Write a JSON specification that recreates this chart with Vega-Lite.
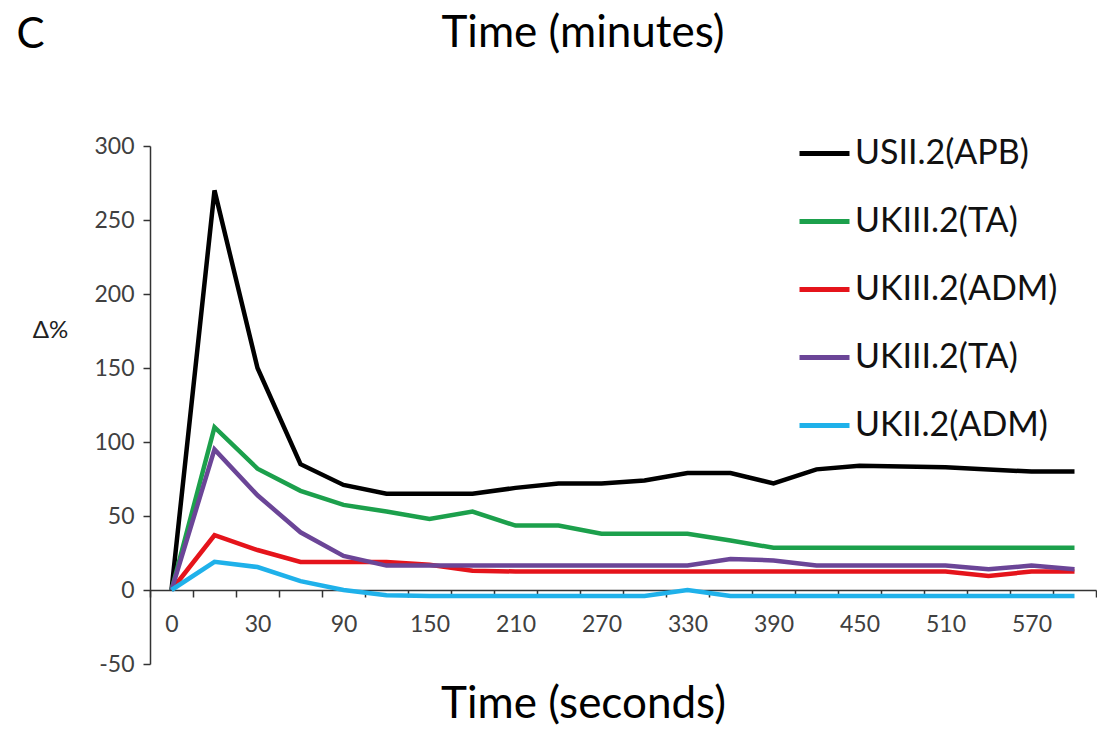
{
"$schema": "https://vega.github.io/schema/vega-lite/v6.json",
"width": 946, "height": 518,
"autosize": {"type": "none"},
"padding": {"left": 150, "top": 146, "right": 1, "bottom": 65},
"background": "white",
"title": {"text": "Time (minutes)", "anchor": "middle", "frame": "group", "dx": -40, "fontSize": 44, "font": "Lato", "fontWeight": "normal", "baseline": "alphabetic", "offset": -78, "color": "#000000"},
"datasets": {
"d": [
{"t":0,"id":"1|USII.2(APB)","v":0},{"t":15,"id":"1|USII.2(APB)","v":270},{"t":30,"id":"1|USII.2(APB)","v":150},{"t":60,"id":"1|USII.2(APB)","v":85},{"t":90,"id":"1|USII.2(APB)","v":71},{"t":120,"id":"1|USII.2(APB)","v":65},{"t":150,"id":"1|USII.2(APB)","v":65},{"t":180,"id":"1|USII.2(APB)","v":65},{"t":210,"id":"1|USII.2(APB)","v":69},{"t":240,"id":"1|USII.2(APB)","v":72},{"t":270,"id":"1|USII.2(APB)","v":72},{"t":300,"id":"1|USII.2(APB)","v":74},{"t":330,"id":"1|USII.2(APB)","v":79},{"t":360,"id":"1|USII.2(APB)","v":79},{"t":390,"id":"1|USII.2(APB)","v":72},{"t":420,"id":"1|USII.2(APB)","v":81.5},{"t":450,"id":"1|USII.2(APB)","v":84},{"t":480,"id":"1|USII.2(APB)","v":83.5},{"t":510,"id":"1|USII.2(APB)","v":83},{"t":540,"id":"1|USII.2(APB)","v":81.5},{"t":570,"id":"1|USII.2(APB)","v":80},{"t":600,"id":"1|USII.2(APB)","v":80},
{"t":0,"id":"2|UKIII.2(TA)","v":0},{"t":15,"id":"2|UKIII.2(TA)","v":110},{"t":30,"id":"2|UKIII.2(TA)","v":82},{"t":60,"id":"2|UKIII.2(TA)","v":67},{"t":90,"id":"2|UKIII.2(TA)","v":57.5},{"t":120,"id":"2|UKIII.2(TA)","v":53},{"t":150,"id":"2|UKIII.2(TA)","v":48},{"t":180,"id":"2|UKIII.2(TA)","v":53},{"t":210,"id":"2|UKIII.2(TA)","v":43.5},{"t":240,"id":"2|UKIII.2(TA)","v":43.5},{"t":270,"id":"2|UKIII.2(TA)","v":38},{"t":300,"id":"2|UKIII.2(TA)","v":38},{"t":330,"id":"2|UKIII.2(TA)","v":38},{"t":360,"id":"2|UKIII.2(TA)","v":33.5},{"t":390,"id":"2|UKIII.2(TA)","v":28.5},{"t":420,"id":"2|UKIII.2(TA)","v":28.5},{"t":450,"id":"2|UKIII.2(TA)","v":28.5},{"t":480,"id":"2|UKIII.2(TA)","v":28.5},{"t":510,"id":"2|UKIII.2(TA)","v":28.5},{"t":540,"id":"2|UKIII.2(TA)","v":28.5},{"t":570,"id":"2|UKIII.2(TA)","v":28.5},{"t":600,"id":"2|UKIII.2(TA)","v":28.5},
{"t":0,"id":"3|UKIII.2(ADM)","v":0},{"t":15,"id":"3|UKIII.2(ADM)","v":37},{"t":30,"id":"3|UKIII.2(ADM)","v":27},{"t":60,"id":"3|UKIII.2(ADM)","v":19},{"t":90,"id":"3|UKIII.2(ADM)","v":19},{"t":120,"id":"3|UKIII.2(ADM)","v":19},{"t":150,"id":"3|UKIII.2(ADM)","v":17},{"t":180,"id":"3|UKIII.2(ADM)","v":13},{"t":210,"id":"3|UKIII.2(ADM)","v":12.5},{"t":240,"id":"3|UKIII.2(ADM)","v":12.5},{"t":270,"id":"3|UKIII.2(ADM)","v":12.5},{"t":300,"id":"3|UKIII.2(ADM)","v":12.5},{"t":330,"id":"3|UKIII.2(ADM)","v":12.5},{"t":360,"id":"3|UKIII.2(ADM)","v":12.5},{"t":390,"id":"3|UKIII.2(ADM)","v":12.5},{"t":420,"id":"3|UKIII.2(ADM)","v":12.5},{"t":450,"id":"3|UKIII.2(ADM)","v":12.5},{"t":480,"id":"3|UKIII.2(ADM)","v":12.5},{"t":510,"id":"3|UKIII.2(ADM)","v":12.5},{"t":540,"id":"3|UKIII.2(ADM)","v":9.5},{"t":570,"id":"3|UKIII.2(ADM)","v":12.5},{"t":600,"id":"3|UKIII.2(ADM)","v":12.5},
{"t":0,"id":"4|UKIII.2(TA)","v":0},{"t":15,"id":"4|UKIII.2(TA)","v":95},{"t":30,"id":"4|UKIII.2(TA)","v":64},{"t":60,"id":"4|UKIII.2(TA)","v":39},{"t":90,"id":"4|UKIII.2(TA)","v":23},{"t":120,"id":"4|UKIII.2(TA)","v":16.5},{"t":150,"id":"4|UKIII.2(TA)","v":16.5},{"t":180,"id":"4|UKIII.2(TA)","v":16.5},{"t":210,"id":"4|UKIII.2(TA)","v":16.5},{"t":240,"id":"4|UKIII.2(TA)","v":16.5},{"t":270,"id":"4|UKIII.2(TA)","v":16.5},{"t":300,"id":"4|UKIII.2(TA)","v":16.5},{"t":330,"id":"4|UKIII.2(TA)","v":16.5},{"t":360,"id":"4|UKIII.2(TA)","v":21},{"t":390,"id":"4|UKIII.2(TA)","v":20},{"t":420,"id":"4|UKIII.2(TA)","v":16.5},{"t":450,"id":"4|UKIII.2(TA)","v":16.5},{"t":480,"id":"4|UKIII.2(TA)","v":16.5},{"t":510,"id":"4|UKIII.2(TA)","v":16.5},{"t":540,"id":"4|UKIII.2(TA)","v":14},{"t":570,"id":"4|UKIII.2(TA)","v":16.5},{"t":600,"id":"4|UKIII.2(TA)","v":14},
{"t":0,"id":"5|UKII.2(ADM)","v":0},{"t":15,"id":"5|UKII.2(ADM)","v":19},{"t":30,"id":"5|UKII.2(ADM)","v":15.5},{"t":60,"id":"5|UKII.2(ADM)","v":6},{"t":90,"id":"5|UKII.2(ADM)","v":0},{"t":120,"id":"5|UKII.2(ADM)","v":-3.5},{"t":150,"id":"5|UKII.2(ADM)","v":-4},{"t":180,"id":"5|UKII.2(ADM)","v":-4},{"t":210,"id":"5|UKII.2(ADM)","v":-4},{"t":240,"id":"5|UKII.2(ADM)","v":-4},{"t":270,"id":"5|UKII.2(ADM)","v":-4},{"t":300,"id":"5|UKII.2(ADM)","v":-4},{"t":330,"id":"5|UKII.2(ADM)","v":0},{"t":360,"id":"5|UKII.2(ADM)","v":-4},{"t":390,"id":"5|UKII.2(ADM)","v":-4},{"t":420,"id":"5|UKII.2(ADM)","v":-4},{"t":450,"id":"5|UKII.2(ADM)","v":-4},{"t":480,"id":"5|UKII.2(ADM)","v":-4},{"t":510,"id":"5|UKII.2(ADM)","v":-4},{"t":540,"id":"5|UKII.2(ADM)","v":-4},{"t":570,"id":"5|UKII.2(ADM)","v":-4},{"t":600,"id":"5|UKII.2(ADM)","v":-4}
]
},
"data": {"name": "d"},
"layer": [
{
"mark": {"type": "line", "strokeWidth": 4.5},
"encoding": {
"x": {"field": "t", "type": "ordinal", "scale": {"type": "band", "paddingInner": 0, "paddingOuter": 0},
 "axis": {"orient": "bottom", "offset": -74, "tickBand": "extent", "labelAngle": 0, "labelOverlap": false,
  "labelExpr": "datum.value == 0 || (datum.value - 30) % 60 == 0 ? datum.label : ''",
  "domainColor": "#333333", "domainWidth": 1.5, "tickColor": "#333333", "tickWidth": 1.5, "tickSize": 7,
  "labelFont": "Lato", "labelFontSize": 23, "labelColor": "#404040", "labelPadding": 16,
  "title": "Time (seconds)", "titleFont": "Lato", "titleFontSize": 44, "titleFontWeight": "normal", "titleColor": "#000000",
  "titleX": 433, "titleY": 127, "titleAlign": "center", "titleBaseline": "alphabetic", "titleAnchor": null}},
"y": {"field": "v", "type": "quantitative", "scale": {"domain": [-50, 300], "nice": false, "zero": false},
 "axis": {"values": [-50, 0, 50, 100, 150, 200, 250, 300], "grid": false, "labelExpr": "'' + datum.value",
  "domainColor": "#333333", "domainWidth": 1.5, "tickColor": "#333333", "tickWidth": 1.5, "tickSize": 7,
  "labelFont": "Lato", "labelFontSize": 23, "labelColor": "#404040", "labelPadding": 9,
  "title": "Δ%", "titleFont": "Lato", "titleFontSize": 24, "titleFontWeight": "normal", "titleColor": "#222222",
  "titleAngle": 0, "titleX": -100, "titleY": 184, "titleAlign": "center", "titleBaseline": "middle"}},
"color": {"field": "id", "type": "nominal",
 "scale": {"domain": ["1|USII.2(APB)", "2|UKIII.2(TA)", "3|UKIII.2(ADM)", "4|UKIII.2(TA)", "5|UKII.2(ADM)"],
  "range": ["#000000", "#1ca04c", "#e5141b", "#6b4597", "#1fb1ea"]},
 "legend": {"orient": "none", "legendX": 647, "legendY": -20, "title": null, "padding": 0,
  "symbolType": "stroke", "symbolSize": 2500, "symbolStrokeWidth": 5,
  "labelExpr": "split(datum.value, '|')[1]", "labelFont": "Lato", "labelFontSize": 34, "labelColor": "#111111",
  "labelLimit": 0, "labelOffset": 3, "rowPadding": 23}}
}
},
{
"mark": {"type": "point", "opacity": 0},
"encoding": {
"x": {"field": "t", "type": "ordinal", "scale": {"type": "band", "paddingInner": 0, "paddingOuter": 0},
 "axis": {"orient": "top", "labels": false, "ticks": false, "domain": false, "grid": false,
  "title": "C", "titleFont": "Lato", "titleFontSize": 42, "titleFontWeight": "normal", "titleColor": "#000000",
  "titleX": -134, "titleY": -99, "titleAlign": "left", "titleBaseline": "alphabetic", "titleAngle": 0, "titleAnchor": null}}
}
}
],
"resolve": {"axis": {"x": "independent"}},
"config": {"view": {"stroke": null}, "axis": {"grid": false}}
}
